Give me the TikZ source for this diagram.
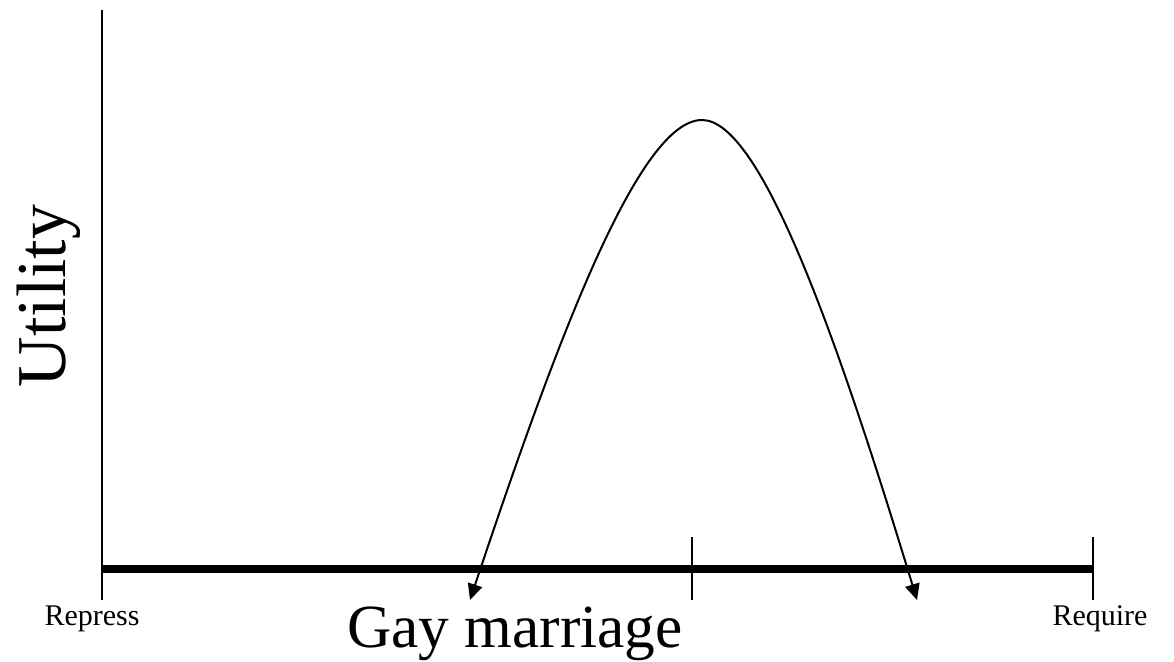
\documentclass[tikz,border=0pt]{standalone}
\usepackage{fontspec}
\setmainfont{Liberation Serif}
\usetikzlibrary{arrows.meta}

\begin{document}
\begin{tikzpicture}[x=0.75pt, y=-0.75pt, axis/.style={line width=2pt}, scale line/.style={line width=6pt}, tick/.style={line width=1.8pt}, curve/.style={line width=1.5pt}, head/.style={-{Triangle[length=12pt,width=11pt]}}, endlabel/.style={anchor=base, font=\fontsize{22.5}{27}\selectfont}]
\useasboundingbox (0,0) rectangle (1174,661);
\coordinate (origin) at (102,569);
\coordinate (ytop) at (102,10);
\coordinate (ybot) at (102,600);
\coordinate (xend) at (1093,569);
\coordinate (midtop) at (692,537);
\coordinate (midbot) at (692,600);
\coordinate (endtop) at (1093,537);
\coordinate (endbot) at (1093,600);
\coordinate (peak) at (702,120);
\coordinate (lefttip) at (470,600);
\coordinate (righttip) at (917,600);
% axes and scale
\draw[axis] (ytop) -- (ybot);
\draw[scale line] (origin) -- (xend);
\draw[tick] (midtop) -- (midbot);
\draw[tick] (endtop) -- (endbot);
% utility curve
\draw[curve,head] (peak) .. controls (640,120) and (560,330) .. (lefttip);
\draw[curve,head] (peak) .. controls (760,120) and (835,330) .. (righttip);
% labels
\node[rotate=90, anchor=base, font=\fontsize{52.5}{60}\selectfont] (util) at (65,296) {Utility};
\node[anchor=base, font=\fontsize{46}{54}\selectfont] (gay) at (515,647) {Gay marriage};
\node[endlabel] (repress) at (92,625) {Repress};
\node[endlabel] (require) at (1100,625) {Require};
\end{tikzpicture}
\end{document}
